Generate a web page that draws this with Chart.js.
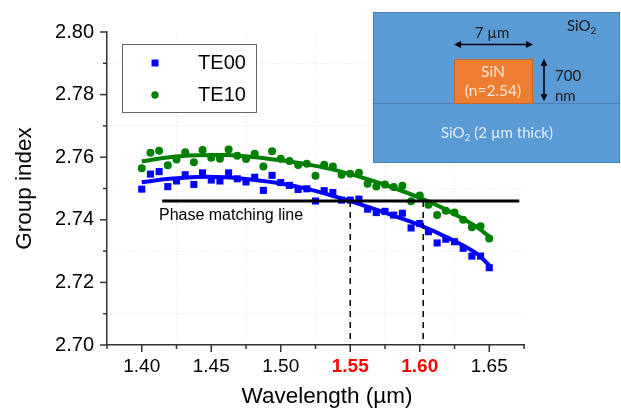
<!DOCTYPE html>
<html>
<head>
<meta charset="utf-8">
<style>
    html, body { margin: 0; padding: 0; background: #fff; }
    #wrap { width: 621px; height: 409px; }
</style>
<script src="https://cdn.jsdelivr.net/npm/chart.js@4"></script>
</head>
<body>
<div id="wrap"><canvas id="chart" width="621" height="409"></canvas></div>
<script>
// Measured points, 1.40 to 1.65 um
const wavelengths = [1.4, 1.40625, 1.4125, 1.41875, 1.425, 1.43125, 1.4375, 1.44375, 1.45, 1.45625, 1.4625,
    1.46875, 1.475, 1.48125, 1.4875, 1.49375, 1.5, 1.50625, 1.5125, 1.51875, 1.525, 1.53125, 1.5375, 1.54375,
    1.55, 1.55625, 1.5625, 1.56875, 1.575, 1.58125, 1.5875, 1.59375, 1.6, 1.60625, 1.6125, 1.61875, 1.625,
    1.63125, 1.6375, 1.64375, 1.65];
const te00 = [2.7498, 2.7546, 2.7554, 2.7506, 2.7524, 2.7544, 2.7513, 2.7550, 2.7527, 2.7524, 2.7550,
    2.7531, 2.7521, 2.7536, 2.7494, 2.7542, 2.7519, 2.7510, 2.7497, 2.7499, 2.7460, 2.7493, 2.7487, 2.7463,
    2.7463, 2.7466, 2.7434, 2.7423, 2.7427, 2.7415, 2.7421, 2.7374, 2.7388, 2.7362, 2.7326, 2.7338, 2.7330,
    2.7309, 2.7284, 2.7284, 2.7247];
const te10 = [2.7565, 2.7614, 2.7621, 2.7574, 2.7593, 2.7616, 2.7584, 2.7623, 2.7598, 2.7595, 2.7625,
    2.7605, 2.7594, 2.7611, 2.7570, 2.7619, 2.7595, 2.7588, 2.7575, 2.7579, 2.7541, 2.7576, 2.7570, 2.7544,
    2.7547, 2.7550, 2.7515, 2.7506, 2.7513, 2.7505, 2.7509, 2.7459, 2.7478, 2.7448, 2.7415, 2.7429, 2.7423,
    2.7400, 2.7376, 2.7379, 2.7340];

// Fit curves
const fitX = [1.40, 1.42, 1.44, 1.46, 1.48, 1.50, 1.52, 1.54, 1.56, 1.58, 1.60, 1.62, 1.64, 1.65];
const fitTe00 = [2.7520, 2.7531, 2.7537, 2.7536, 2.7528, 2.7516, 2.7498, 2.7473, 2.7445, 2.7415, 2.7383, 2.7343, 2.7295, 2.7255];
const fitTe10 = [2.7587, 2.7600, 2.7606, 2.7607, 2.7601, 2.7590, 2.7576, 2.7558, 2.7533, 2.7504, 2.7470, 2.7430, 2.7380, 2.7346];

// Guide lines
const phaseX = [1.4147, 1.6716];
const phaseY = [2.746, 2.746];
const dashA = [1.55, 1.55];
const dashB = [1.6025, 1.6025];
const dashY = [2.746, 2.70];

// Axis ticks
const xMajor = [1.40, 1.45, 1.50, 1.55, 1.60, 1.65];
const xMinor = [1.375, 1.425, 1.475, 1.525, 1.575, 1.625, 1.675];
const xRed = ['1.55', '1.60'];
const yMajor = [2.70, 2.72, 2.74, 2.76, 2.78, 2.80];
const yMinor = [2.71, 2.73, 2.75, 2.77, 2.79];

const BLUE = '#0000ff';
const GREEN = '#008000';
const SANS = '"Liberation Sans", Arial, sans-serif';
const LATO = 'Lato, sans-serif';

function toPoints(xs, ys) {
    return xs.map((x, i) => ({ x: x, y: ys[i] }));
}

function isMajor(list, value) {
    return list.some(v => Math.abs(v - value) < 1e-6);
}

function tickObjects(major, minor) {
    return major.concat(minor).sort((a, b) => a - b).map(v => ({ value: v, major: isMajor(major, v) }));
}

function gridColor(ctx, scaleMin, scaleMax, major) {
    const v = ctx.tick ? ctx.tick.value : scaleMin;
    if (isMajor(major, v) || Math.abs(v - scaleMin) < 1e-6 || Math.abs(v - scaleMax) < 1e-6) return 'rgba(0,0,0,0)';
    return '#e4e4e4';
}

function arrowHead(c, x, y, dx, dy) {
    const size = 7, half = 3.5;
    c.beginPath();
    c.moveTo(x, y);
    c.lineTo(x - dx * size - dy * half, y - dy * size - dx * half);
    c.lineTo(x - dx * size + dy * half, y - dy * size + dx * half);
    c.closePath();
    c.fill();
}

function sio2(c, x, y, size, color) {
    c.fillStyle = color;
    c.textAlign = 'left';
    c.textBaseline = 'middle';
    c.font = size + 'px ' + LATO;
    c.fillText('SiO', x, y);
    const w = c.measureText('SiO').width;
    c.font = Math.round(size * 0.65) + 'px ' + LATO;
    c.fillText('2', x + w, y + 5);
    return x + w + c.measureText('2').width;
}

// Short axis ticks, since tickLength can't differ between major and minor
const axisTicks = {
    id: 'axisTicks',
    afterDraw(chart) {
        const c = chart.ctx, xs = chart.scales.x, ys = chart.scales.y;
        c.save();
        c.strokeStyle = '#333';
        c.lineWidth = 1.5;
        xs.ticks.forEach(t => {
            const px = xs.getPixelForValue(t.value);
            c.beginPath();
            c.moveTo(px, ys.bottom);
            c.lineTo(px, ys.bottom + (t.major ? 7 : 4));
            c.stroke();
        });
        ys.ticks.forEach(t => {
            const py = ys.getPixelForValue(t.value);
            c.beginPath();
            c.moveTo(xs.left, py);
            c.lineTo(xs.left - (t.major ? 7 : 4), py);
            c.stroke();
        });
        // x title sits off-centre in the original
        c.fillStyle = '#000';
        c.font = '22.5px ' + SANS;
        c.textAlign = 'center';
        c.textBaseline = 'middle';
        c.fillText('Wavelength (µm)', 327, 397);
        c.restore();
    }
};

const legendBox = {
    id: 'legendBox',
    afterDraw(chart) {
        const c = chart.ctx;
        c.save();
        c.fillStyle = '#fff';
        c.fillRect(122.5, 44.5, 134, 68);
        c.strokeStyle = '#666';
        c.lineWidth = 1;
        c.strokeRect(122.5, 44.5, 134, 68);

        c.fillStyle = BLUE;
        c.fillRect(151.5, 59.5, 7, 7);
        c.fillStyle = GREEN;
        c.beginPath();
        c.arc(155, 95, 3.7, 0, Math.PI * 2);
        c.fill();

        c.fillStyle = '#000';
        c.font = '20px ' + SANS;
        c.textAlign = 'center';
        c.textBaseline = 'middle';
        c.fillText(chart.data.datasets[0].label, 222, 63);
        c.fillText(chart.data.datasets[1].label, 222, 95);

        c.font = '16px ' + SANS;
        c.fillText('Phase matching line', 231, 216);
        c.restore();
    }
};

// Waveguide cross-section in the top right corner
const inset = {
    id: 'inset',
    afterDraw(chart) {
        const c = chart.ctx;
        c.save();
        c.fillStyle = '#5b9bd5';
        c.fillRect(373, 12, 247, 150);
        c.strokeStyle = '#4a80b4';
        c.lineWidth = 1;
        c.strokeRect(373.5, 12.5, 246, 150);
        c.beginPath();
        c.moveTo(373, 103.5);
        c.lineTo(620, 103.5);
        c.stroke();

        c.fillStyle = '#ed7d31';
        c.fillRect(454, 59, 79, 45);
        c.strokeStyle = '#b8682f';
        c.strokeRect(454.5, 59.5, 78, 44);

        // arrows
        c.strokeStyle = '#000';
        c.fillStyle = '#000';
        c.lineWidth = 1.5;
        c.beginPath();
        c.moveTo(458, 44.5);
        c.lineTo(529, 44.5);
        c.moveTo(544, 63);
        c.lineTo(544, 97);
        c.stroke();
        arrowHead(c, 454, 44.5, -1, 0);
        arrowHead(c, 533, 44.5, 1, 0);
        arrowHead(c, 544, 59, 0, -1);
        arrowHead(c, 544, 101, 0, 1);

        // labels
        c.textBaseline = 'middle';
        c.textAlign = 'center';
        c.font = '15px ' + LATO;
        c.fillStyle = '#1a1a1a';
        c.fillText('7 µm', 492, 33);
        c.textAlign = 'left';
        c.fillText('700', 555, 76);
        c.fillText('nm', 555, 96);
        c.textAlign = 'center';
        c.fillStyle = '#fbe5d6';
        c.font = '15.5px ' + LATO;
        c.fillText('SiN', 493, 72);
        c.fillText('(n=2.54)', 493, 91);

        sio2(c, 567, 26, 15, '#1a1a1a');
        const end = sio2(c, 441, 133, 15, '#e4eef8');
        c.textAlign = 'left';
        c.font = '15px ' + LATO;
        c.fillStyle = '#e4eef8';
        c.fillText('(2 µm thick)', end + 4, 133);
        c.restore();
    }
};

new Chart(document.getElementById('chart'), {
    type: 'scatter',
    data: {
        datasets: [
            { label: 'TE00', data: toPoints(wavelengths, te00), backgroundColor: BLUE, borderColor: BLUE, borderWidth: 0, pointStyle: 'rect', pointRadius: 5, order: 3 },
            { label: 'TE10', data: toPoints(wavelengths, te10), backgroundColor: GREEN, borderColor: GREEN, borderWidth: 0, pointStyle: 'circle', pointRadius: 4, order: 3 },
            { label: 'TE00 fit', data: toPoints(fitX, fitTe00), showLine: true, borderColor: BLUE, borderWidth: 4, pointRadius: 0, tension: 0.4, order: 2 },
            { label: 'TE10 fit', data: toPoints(fitX, fitTe10), showLine: true, borderColor: GREEN, borderWidth: 4, pointRadius: 0, tension: 0.4, order: 2 },
            { label: 'Phase matching line', data: toPoints(phaseX, phaseY), showLine: true, borderColor: '#000', borderWidth: 3, pointRadius: 0, order: 1 },
            { label: '1.55', data: toPoints(dashA, dashY), showLine: true, borderColor: '#000', borderWidth: 1.5, borderDash: [6, 5], pointRadius: 0, order: 1 },
            { label: '1.60', data: toPoints(dashB, dashY), showLine: true, borderColor: '#000', borderWidth: 1.5, borderDash: [6, 5], pointRadius: 0, order: 1 }
        ]
    },
    options: {
        responsive: false,
        animation: false,
        layout: { padding: { left: 0, right: 97, top: 32, bottom: 0 } },
        plugins: { legend: { display: false }, tooltip: { enabled: false } },
        scales: {
            x: {
                type: 'linear',
                min: 1.375,
                max: 1.675,
                afterBuildTicks: scale => { scale.ticks = tickObjects(xMajor, xMinor); },
                afterFit: scale => { scale.height = 64; },
                border: { color: '#333', width: 1.5, dash: [1, 2] },
                grid: {
                    drawTicks: false,
                    lineWidth: 1,
                    color: ctx => gridColor(ctx, 1.375, 1.675, xMajor)
                },
                ticks: {
                    autoSkip: false,
                    maxRotation: 0,
                    padding: 10,
                    callback: value => isMajor(xMajor, value) ? value.toFixed(2) : '',
                    color: ctx => ctx.tick && xRed.includes(ctx.tick.value.toFixed(2)) ? '#ff0000' : '#000',
                    font: ctx => ({
                        family: SANS,
                        size: 19,
                        weight: ctx.tick && xRed.includes(ctx.tick.value.toFixed(2)) ? 'bold' : 'normal'
                    })
                }
            },
            y: {
                type: 'linear',
                min: 2.70,
                max: 2.80,
                afterBuildTicks: scale => { scale.ticks = tickObjects(yMajor, yMinor); },
                afterFit: scale => { scale.width = 107; },
                border: { color: '#333', width: 1.5, dash: [1, 2] },
                grid: {
                    drawTicks: false,
                    lineWidth: 1,
                    color: ctx => gridColor(ctx, 2.70, 2.80, yMajor)
                },
                title: {
                    display: true,
                    text: 'Group index',
                    color: '#000',
                    font: { family: SANS, size: 22.5 },
                    padding: { top: 11, bottom: 0 }
                },
                ticks: {
                    autoSkip: false,
                    padding: 13,
                    color: '#000',
                    callback: value => isMajor(yMajor, value) ? value.toFixed(2) : '',
                    font: { family: SANS, size: 20 }
                }
            }
        }
    },
    plugins: [axisTicks, legendBox, inset]
});
</script>
</body>
</html>
